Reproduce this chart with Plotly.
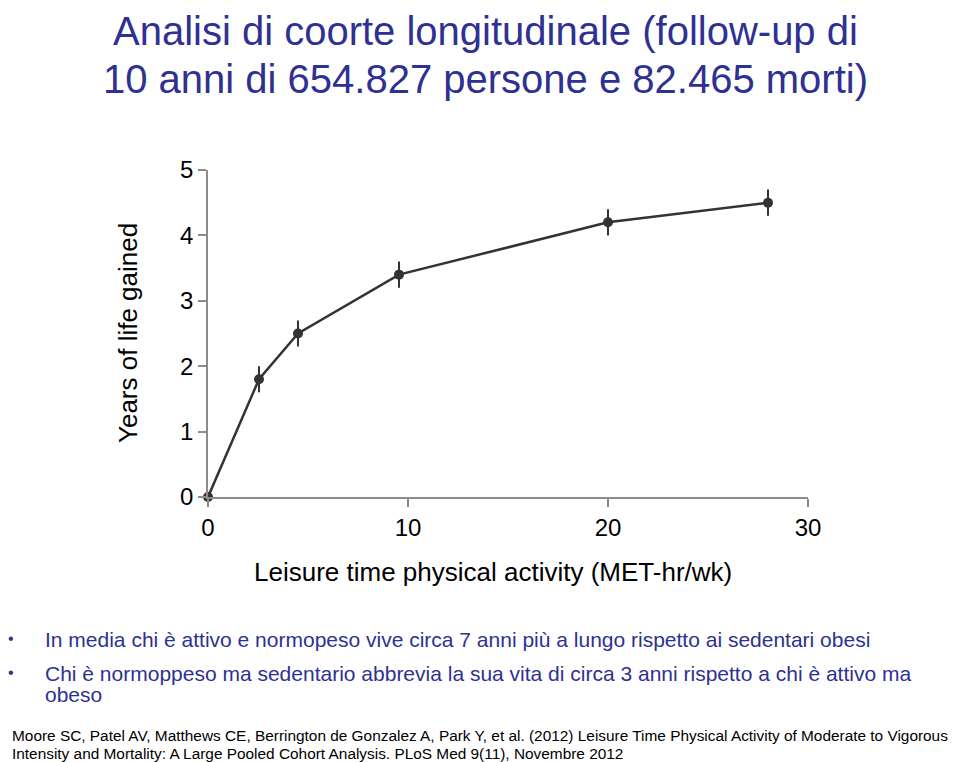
import plotly.graph_objects as go

# Data
activity = [0, 2.55, 4.5, 9.55, 20, 28]
years_gained = [0, 1.8, 2.5, 3.4, 4.2, 4.5]
err = [0, 0.2, 0.2, 0.2, 0.2, 0.2]
x_ticks = [0, 10, 20, 30]
y_ticks = [0, 1, 2, 3, 4, 5]

OFF = 8  # page body margin
W, H = 959 - OFF, 762 - OFF
L, R, T, B = 208 - OFF, 808 - OFF, 170 - OFF, 497 - OFF  # plot area pixels in figure

def px(x):
    return (x - OFF - L) / (R - L)

def py(y):
    return (B - (y - OFF)) / (B - T)

BLUE = "#2e3192"
FONT = "Liberation Sans, Arial, sans-serif"

fig = go.Figure()
fig.add_trace(go.Scatter(
    x=activity, y=years_gained,
    mode="lines+markers",
    line=dict(color="#333333", width=2.5),
    marker=dict(color="#333333", size=10),
    error_y=dict(type="data", array=err, visible=True, width=0, thickness=2, color="#333333"),
    cliponaxis=False,
    showlegend=False,
))

fig.update_xaxes(
    range=[0, 30], tickvals=x_ticks, showgrid=False, zeroline=False,
    showline=True, linecolor="#8c8c8c", linewidth=1.5,
    ticks="outside", ticklen=8, tickcolor="#8c8c8c", tickwidth=1.5,
    tickfont=dict(size=24, color="black", family=FONT),
)
fig.update_yaxes(
    range=[0, 5], tickvals=y_ticks, showgrid=False, zeroline=False,
    showline=True, linecolor="#8c8c8c", linewidth=1.5,
    ticks="outside", ticklen=8, tickcolor="#8c8c8c", tickwidth=1.5,
    tickfont=dict(size=24, color="black", family=FONT),
)

ann = []
def add(text, x, y, size, color, xanchor="center", angle=0):
    ann.append(dict(text=text, x=px(x), y=py(y), xref="paper", yref="paper",
                    showarrow=False, xanchor=xanchor, yanchor="middle",
                    textangle=angle, font=dict(size=size, color=color, family=FONT)))

add("Analisi di coorte longitudinale (follow-up di", 485, 31, 40, BLUE)
add("10 anni di 654.827 persone e 82.465 morti)", 485, 79, 40, BLUE)
add("Years of life gained", 128, 333, 26, "black", angle=-90)
add("Leisure time physical activity (MET-hr/wk)", 493, 572, 26, "black")
add("•", 6, 638, 16, BLUE, xanchor="left")
add("In media chi è attivo e normopeso vive circa 7 anni più a lungo rispetto ai sedentari obesi", 43, 639, 21, BLUE, xanchor="left")
add("•", 6, 672, 16, BLUE, xanchor="left")
add("Chi è normoppeso ma sedentario abbrevia la sua vita di circa 3 anni rispetto a chi è attivo ma", 43, 673, 21, BLUE, xanchor="left")
add("obeso", 43, 694, 21, BLUE, xanchor="left")
add("Moore SC, Patel AV, Matthews CE, Berrington de Gonzalez A, Park Y, et al. (2012) Leisure Time Physical Activity of Moderate to Vigorous", 10, 735, 15.4, "black", xanchor="left")
add("Intensity and Mortality: A Large Pooled Cohort Analysis. PLoS Med 9(11), Novembre 2012", 10, 753, 15.4, "black", xanchor="left")

fig.update_layout(
    width=W, height=H, autosize=False,
    margin=dict(l=L, r=W - R, t=T, b=H - B),
    paper_bgcolor="white", plot_bgcolor="white",
    annotations=ann,
    font=dict(family=FONT),
)

fig.write_html("out.html")
